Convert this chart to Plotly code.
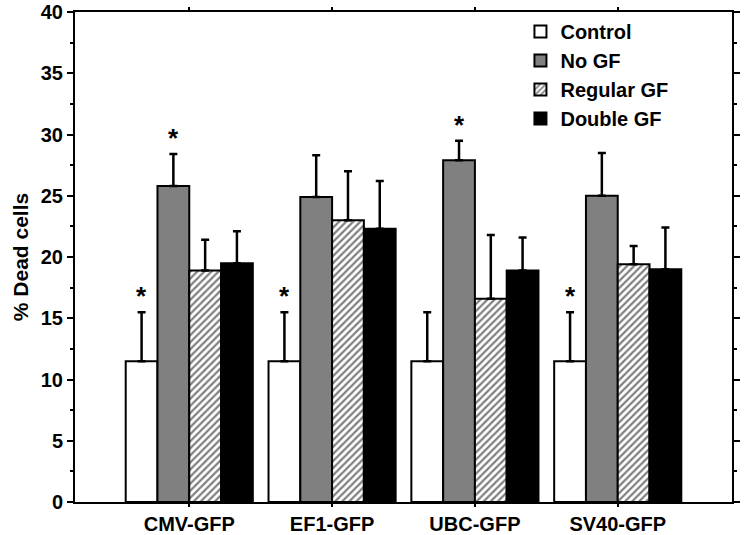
import plotly.graph_objects as go

categories = ["CMV-GFP", "EF1-GFP", "UBC-GFP", "SV40-GFP"]
series_names = ["Control", "No GF", "Regular GF", "Double GF"]
control = [11.5, 11.5, 11.5, 11.5]
control_err = [4.0, 4.0, 4.0, 4.0]
no_gf = [25.8, 24.9, 27.9, 25.0]
no_gf_err = [2.6, 3.4, 1.6, 3.5]
regular_gf = [18.9, 23.0, 16.6, 19.4]
regular_gf_err = [2.5, 4.0, 5.2, 1.5]
double_gf = [19.5, 22.3, 18.9, 19.0]
double_gf_err = [2.6, 3.9, 2.7, 3.4]
# significance markers (category index, series index)
stars = [(0, 0), (0, 1), (1, 0), (2, 1), (3, 0)]
y_ticks = [0, 5, 10, 15, 20, 25, 30, 35, 40]

values = [control, no_gf, regular_gf, double_gf]
errors = [control_err, no_gf_err, regular_gf_err, double_gf_err]
fills = ["white", "#808080", "white", "black"]
patterns = ["", "", "/", ""]

FONT = "Liberation Sans"
bargap = 0.11
bw = (1 - bargap) / 4
xs = list(range(len(categories)))

fig = go.Figure()
for j, name in enumerate(series_names):
    fig.add_trace(go.Bar(
        x=xs, y=values[j], name="<b>%s</b>" % name,
        marker=dict(color=fills[j], line=dict(color="black", width=2),
                    pattern=dict(shape=patterns[j], fgcolor="black", bgcolor="white",
                                 size=5, solidity=0.45)),
        error_y=dict(type="data", array=errors[j], arrayminus=[0] * len(xs),
                     symmetric=False, color="black", thickness=2.5, width=4),
    ))

for (i, j) in stars:
    fig.add_annotation(x=i + (j - 1.5) * bw, y=values[j][i] + errors[j][i],
                       xref="x", yref="y", text="<b>*</b>", showarrow=False,
                       yanchor="bottom", yshift=-1,
                       font=dict(size=26, color="black", family=FONT))

fig.update_layout(
    width=745, height=535,
    margin=dict(l=75, r=13, t=12, b=33, autoexpand=False),
    paper_bgcolor="white", plot_bgcolor="white",
    barmode="group", bargap=bargap, bargroupgap=0,
    font=dict(family=FONT, color="black", size=19),
    showlegend=True,
    legend=dict(x=0.678, y=1.0, xanchor="left", yanchor="top",
                bgcolor="rgba(0,0,0,0)", font=dict(size=20, family=FONT),
                traceorder="normal", itemwidth=30, tracegroupgap=0),
)
fig.update_xaxes(range=[-0.8, 3.8], tickvals=xs, automargin=False,
                 ticktext=["<b>%s</b>" % c for c in categories],
                 showline=True, linecolor="black", linewidth=2, mirror="ticks",
                 ticks="outside", ticklen=3, tickwidth=1.5, tickcolor="black",
                 showgrid=False, zeroline=False,
                 tickfont=dict(size=20, family=FONT))
fig.update_yaxes(range=[0, 40], tickvals=y_ticks, automargin=False,
                 ticktext=["<b>%d</b>" % v for v in y_ticks],
                 showline=True, linecolor="black", linewidth=2, mirror="ticks",
                 ticks="outside", ticklen=6, tickwidth=1.5, tickcolor="black",
                 minor=dict(dtick=2.5, ticks="outside", ticklen=3, tickwidth=1.5, tickcolor="black"),
                 showgrid=False, zeroline=False,
                 title=dict(text="<b>% Dead cells</b>", font=dict(size=21), standoff=6),
                 tickfont=dict(size=20, family=FONT))

fig.write_html("out.html", config={"displayModeBar": False},
               post_script="document.body.style.margin='0';document.body.style.overflow='hidden';")
